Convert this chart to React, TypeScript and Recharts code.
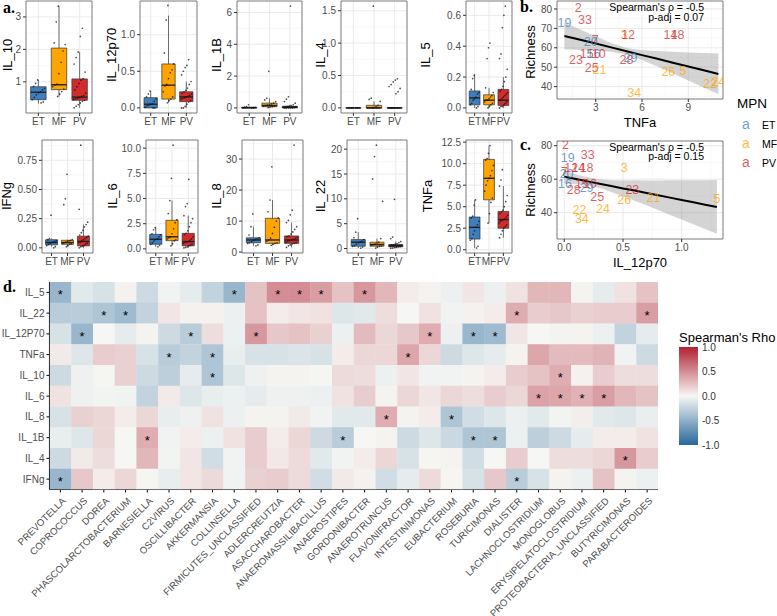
import React from "react";
import {
  ComposedChart, Scatter, Line, Area, Bar, XAxis, YAxis,
  CartesianGrid, ReferenceArea, ReferenceLine,
} from "recharts";

const FONT = "'Liberation Sans', Arial, sans-serif";
const SERIF = "'Liberation Serif', 'Times New Roman', serif";
const TICK = { fontSize: 10, fill: "#4d4d4d", fontFamily: FONT };

// ---- panel a: cytokine levels per MPN subtype ----
const groups = ["ET", "MF", "PV"];
const groupFill = ["#3d7ebf", "#ffa500", "#d22b2b"];

// box stats: [whisker low, q1, median, q3, whisker high]
const il10ET = [0.35, 0.38, 0.45, 0.52, 0.6, 0.66, 0.7, 0.75, 0.8, 0.86, 0.95, 1.06];
const il10MF = [0.55, 0.62, 0.7, 0.78, 0.85, 0.9, 0.93, 1.25, 1.6, 1.95, 2.15, 2.2, 2.85, 3.33];
const il10PV = [0.2, 0.25, 0.3, 0.35, 0.4, 0.43, 0.46, 0.48, 0.5, 0.52, 0.55, 0.58, 0.65, 0.75, 0.85, 0.95, 1.05, 1.1, 1.3, 1.55, 1.75, 1.92, 2.4, 2.65];
const il10Box = [[0.33, 0.45, 0.68, 0.85, 1.06], [0.55, 0.76, 0.91, 2.04, 3.33], [0.2, 0.43, 0.53, 1.09, 1.92]];

const il12ET = [0, 0, 0.01, 0.03, 0.04, 0.05, 0.06, 0.09, 0.12, 0.15, 0.19, 0.23];
const il12MF = [0.07, 0.1, 0.12, 0.15, 0.22, 0.3, 0.32, 0.4, 0.48, 0.52, 0.6, 0.75, 1.2, 1.4];
const il12PV = [0, 0, 0.02, 0.05, 0.08, 0.1, 0.12, 0.13, 0.14, 0.15, 0.16, 0.17, 0.19, 0.2, 0.22, 0.24, 0.27, 0.32, 0.36, 0.45, 0.5, 0.55, 0.58, 0.66];
const il12Box = [[0, 0, 0.05, 0.14, 0.23], [0.07, 0.12, 0.31, 0.6, 1.26], [0, 0.085, 0.15, 0.22, 0.36]];

const il1bET = [0, 0, 0, 0, 0.01, 0.02, 0.02, 0.03, 0.04, 0.05, 0.08, 0.2];
const il1bMF = [0.02, 0.05, 0.08, 0.1, 0.12, 0.15, 0.18, 0.2, 0.25, 0.3, 0.4, 0.5, 0.6, 2.3];
const il1bPV = [0, 0, 0, 0, 0, 0.01, 0.02, 0.03, 0.04, 0.05, 0.05, 0.06, 0.07, 0.08, 0.1, 0.12, 0.15, 0.2, 0.3, 0.4, 0.55, 0.7, 6.4];
const il1bBox = [[0, 0, 0.01, 0.04, 0.08], [0.02, 0.08, 0.15, 0.3, 0.6], [0, 0.01, 0.05, 0.1, 0.2]];

const il4ET = [0, 0, 0, 0, 0, 0, 0, 0, 0, 0, 0, 0];
const il4MF = [0, 0, 0, 0, 0, 0, 0, 0.01, 0.02, 0.04, 0.1, 0.13, 0.15, 1.57];
const il4PV = [0, 0, 0, 0, 0, 0, 0, 0, 0, 0, 0, 0, 0, 0, 0, 0, 0.22, 0.25, 0.3, 0.33, 0.36, 0.4, 0.43, 0.45];
const il4Box = [[0, 0, 0, 0, 0], [0, 0, 0, 0.04, 0.1], [0, 0, 0, 0, 0]];

const il5ET = [0, 0.01, 0.02, 0.03, 0.05, 0.06, 0.07, 0.09, 0.1, 0.12, 0.19, 0.21];
const il5MF = [0, 0.01, 0.02, 0.03, 0.04, 0.05, 0.05, 0.06, 0.07, 0.08, 0.1, 0.13, 0.32, 0.39, 0.42];
const il5PV = [0, 0.01, 0.01, 0.02, 0.03, 0.04, 0.05, 0.05, 0.06, 0.07, 0.08, 0.09, 0.1, 0.11, 0.12, 0.14, 0.17, 0.2, 0.25, 0.32, 0.35, 0.52, 0.6, 0.66];
const il5Box = [[0, 0.02, 0.065, 0.11, 0.22], [0, 0.02, 0.05, 0.085, 0.13], [0, 0.015, 0.05, 0.12, 0.2]];

const ifngET = [0, 0.01, 0.02, 0.03, 0.04, 0.045, 0.05, 0.055, 0.06, 0.07, 0.08, 0.28];
const ifngMF = [0.01, 0.02, 0.03, 0.035, 0.04, 0.045, 0.05, 0.055, 0.06, 0.065, 0.07, 0.37, 0.42, 0.63];
const ifngPV = [0, 0.01, 0.015, 0.02, 0.03, 0.04, 0.05, 0.05, 0.06, 0.07, 0.08, 0.09, 0.1, 0.11, 0.13, 0.15, 0.18, 0.2, 0.22, 0.33, 0.88];
const ifngBox = [[0.01, 0.026, 0.046, 0.07, 0.08], [0.01, 0.03, 0.045, 0.065, 0.07], [0, 0.017, 0.055, 0.1, 0.2]];

const il6ET = [0.2, 0.35, 0.45, 0.6, 0.8, 0.95, 1.0, 1.2, 1.4, 1.5, 1.9, 2.1];
const il6MF = [0.3, 0.5, 0.8, 0.9, 1.0, 1.1, 1.2, 1.5, 2.0, 2.6, 2.9, 3.5, 4.8, 7.0, 10.3];
const il6PV = [0.1, 0.15, 0.2, 0.3, 0.35, 0.45, 0.55, 0.65, 0.7, 0.75, 0.85, 1.0, 1.2, 1.4, 1.55, 1.8, 2.2, 2.6, 3.0, 3.3, 4.2, 4.5, 6.9];
const il6Box = [[0.2, 0.46, 0.95, 1.44, 2.1], [0.3, 0.82, 1.2, 2.84, 4.8], [0.1, 0.3, 0.72, 1.54, 3.3]];

const il8ET = [2.0, 2.3, 2.8, 3.0, 3.4, 3.8, 4.0, 4.3, 4.6, 5.5, 8.2, 12.3];
const il8MF = [2.2, 2.5, 2.8, 3.0, 3.5, 3.9, 4.5, 6.0, 8.0, 10.0, 11.0, 13.0, 16.8, 27.5];
const il8PV = [1.5, 2.0, 2.3, 2.6, 2.8, 3.0, 3.2, 3.5, 3.7, 3.9, 4.1, 4.4, 4.7, 5.0, 5.2, 5.8, 6.5, 7.3, 8.2, 9.5, 10.2, 12.0, 13.5, 34.5];
const il8Box = [[2.0, 3.0, 3.9, 4.6, 8.2], [2.2, 2.8, 3.9, 10.9, 16.8], [1.5, 2.8, 3.9, 5.2, 9.5]];

const il22ET = [0.1, 0.3, 0.45, 0.6, 0.9, 1.2, 1.3, 1.5, 1.8, 2.2, 3.3, 6.0];
const il22MF = [0.1, 0.3, 0.45, 0.5, 0.7, 0.8, 0.9, 1.1, 1.3, 2.0, 9.5, 14.0, 18.5, 20.8];
const il22PV = [0.05, 0.1, 0.2, 0.3, 0.35, 0.4, 0.45, 0.5, 0.55, 0.6, 0.6, 0.65, 0.7, 0.75, 0.8, 0.9, 1.0, 1.2, 1.4, 2.0, 2.3, 9.9];
const il22Box = [[0.1, 0.47, 1.27, 1.8, 3.3], [0.1, 0.47, 0.8, 1.27, 2.0], [0.05, 0.33, 0.6, 0.8, 1.4]];

const tnfET = [0.2, 0.4, 1.1, 1.3, 1.8, 2.2, 2.6, 2.9, 3.3, 3.7, 3.9, 5.2, 5.8];
const tnfMF = [3.1, 4.2, 5.5, 6.0, 6.8, 7.5, 8.0, 8.3, 8.6, 9.2, 9.8, 10.4, 10.6, 11.2, 12.1];
const tnfPV = [1.4, 1.8, 2.2, 2.5, 2.7, 2.9, 3.1, 3.3, 3.4, 3.5, 3.6, 3.8, 4.0, 4.2, 4.4, 4.6, 5.0, 5.6, 6.3, 7.4, 8.1, 9.3];
const tnfBox = [[0.2, 1.24, 2.6, 3.8, 5.8], [3.1, 5.8, 8.3, 10.5, 12.1], [1.4, 2.5, 3.5, 4.45, 7.4]];

const boxPanels = [
  { name: "IL_10", pts: [il10ET, il10MF, il10PV], box: il10Box, ticks: [1, 2, 3], dec: 0, domain: [0.04, 3.49] },
  { name: "IL_12p70", pts: [il12ET, il12MF, il12PV], box: il12Box, ticks: [0, 0.5, 1], dec: 1, domain: [-0.07, 1.46] },
  { name: "IL_1B", pts: [il1bET, il1bMF, il1bPV], box: il1bBox, ticks: [0, 2, 4, 6], dec: 0, domain: [-0.32, 6.72] },
  { name: "IL_4", pts: [il4ET, il4MF, il4PV], box: il4Box, ticks: [0, 0.5, 1, 1.5], dec: 1, domain: [-0.079, 1.65] },
  { name: "IL_5", pts: [il5ET, il5MF, il5PV], box: il5Box, ticks: [0, 0.2, 0.4, 0.6], dec: 1, domain: [-0.033, 0.693] },
  { name: "IFNg", pts: [ifngET, ifngMF, ifngPV], box: ifngBox, ticks: [0, 0.25, 0.5, 0.75], dec: 2, domain: [-0.044, 0.924] },
  { name: "IL_6", pts: [il6ET, il6MF, il6PV], box: il6Box, ticks: [0, 2.5, 5, 7.5, 10], dec: 1, domain: [-0.41, 10.81] },
  { name: "IL_8", pts: [il8ET, il8MF, il8PV], box: il8Box, ticks: [0, 10, 20, 30], dec: 0, domain: [-0.3, 36.15] },
  { name: "IL_22", pts: [il22ET, il22MF, il22PV], box: il22Box, ticks: [0, 5, 10, 15, 20], dec: 0, domain: [-0.9, 21.84] },
  { name: "TNFa", pts: [tnfET, tnfMF, tnfPV], box: tnfBox, ticks: [0, 2.5, 5, 7.5, 10, 12.5], dec: 1, domain: [-0.38, 12.75] },
];
// plot rectangles [x, y, w, h] and y-title x positions
const boxRects = [
  [26, 1, 66, 112], [140, 1, 57, 112], [237, 1, 65, 112], [341, 1, 66, 112], [466, 1, 46, 112],
  [42, 140, 51, 113], [146, 140, 52, 113], [242, 140, 61, 113], [347, 140, 60, 113], [466, 140, 46, 113],
];
const boxTitleX = [7, 111, 216, 320, 425, 6, 112, 216, 320, 427];

// ---- panels b, c: richness vs cytokine ----
const patientIds = [2, 33, 19, 7, 20, 3, 12, 14, 18, 15, 16, 10, 23, 28, 29, 25, 21, 26, 5, 22, 24, 34];
const patientGroup = ["PV", "PV", "ET", "PV", "ET", "MF", "PV", "PV", "PV", "PV", "ET", "PV", "PV", "PV", "ET", "PV", "MF", "MF", "MF", "MF", "MF", "MF"];
const richness = [81, 74.8, 73, 64.3, 63.3, 67, 67, 67, 67, 57.3, 57.3, 57.3, 53.7, 53.9, 55.2, 49.7, 48.8, 47.7, 48.4, 41.7, 42.4, 36.8];
const tnfa = [1.87, 2.31, 0.97, 2.96, 2.68, 4.85, 5.1, 7.85, 8.3, 2.42, 2.85, 3.2, 1.72, 5.0, 5.25, 2.74, 3.24, 7.71, 8.64, 10.41, 10.95, 5.5];
const il12p70 = [0.01, 0.2, 0.03, 0.0, 0.02, 0.51, 0.06, 0.12, 0.19, 0.15, 0.006, 0.22, 0.58, 0.08, 0.19, 0.28, 0.76, 0.51, 1.3, 0.13, 0.33, 0.15];

const fitTnfX = [0.97, 2, 3, 4, 5, 6, 7, 8, 9, 10, 10.95];
const fitTnfY = [66.1, 64.1, 62.2, 60.2, 58.2, 56.2, 54.3, 52.3, 50.3, 48.4, 46.5];
const fitTnfLo = [59.2, 58.9, 58.5, 57.9, 56.5, 53.7, 50.3, 46.7, 43.1, 39.5, 36.0];
const fitTnfHi = [73.0, 69.4, 65.9, 62.5, 59.9, 58.7, 58.3, 57.9, 57.5, 57.3, 57.0];

const fitIlX = [0, 0.1, 0.2, 0.3, 0.4, 0.5, 0.6, 0.7, 0.8, 0.9, 1.0, 1.1, 1.2, 1.3];
const fitIlY = [61.5, 60.1, 58.7, 57.3, 55.9, 54.5, 53.2, 51.8, 50.4, 49.0, 47.6, 46.2, 44.8, 43.4];
const fitIlLo = [57.5, 57.2, 56.3, 54.7, 52.4, 49.8, 47.1, 44.4, 41.6, 38.7, 35.9, 33.1, 30.2, 27.5];
const fitIlHi = [65.5, 63.0, 61.1, 59.9, 59.4, 59.2, 59.3, 59.2, 59.2, 59.3, 59.3, 59.4, 59.4, 59.5];

// ---- panel d: Spearman's rho heatmap ----
const taxa = ["PREVOTELLA", "COPROCOCCUS", "DOREA", "PHASCOLARCTOBACTERIUM", "BARNESIELLA", "C2VIRUS", "OSCILLIBACTER", "AKKERMANSIA", "COLLINSELLA", "FIRMICUTES_UNCLASSIFIED", "ADLERCREUTZIA", "ASACCHAROBACTER", "ANAEROMASSILIBACILLUS", "ANAEROSTIPES", "GORDONIBACTER", "ANAEROTRUNCUS", "FLAVONIFRACTOR", "INTESTINIMONAS", "EUBACTERIUM", "ROSEBURIA", "TURICIMONAS", "DIALISTER", "LACHNOCLOSTRIDIUM", "MONOGLOBUS", "ERYSIPELATOCLOSTRIDIUM", "PROTEOBACTERIA_UNCLASSIFIED", "BUTYRICIMONAS", "PARABACTEROIDES"];
const cytokines = ["IL_5", "IL_22", "IL_12P70", "TNFa", "IL_10", "IL_6", "IL_8", "IL_1B", "IL_4", "IFNg"];

const rhoIL5 = [-0.45, -0.1, -0.15, 0.03, -0.2, -0.03, -0.08, -0.25, -0.45, 0.25, 0.5, 0.5, 0.42, 0.25, 0.45, 0.3, 0.05, 0.02, -0.05, 0.08, -0.05, 0.1, 0.3, 0.3, 0.02, -0.08, 0.1, 0.25];
const rhoIL22 = [-0.3, -0.3, -0.35, -0.42, -0.25, 0.08, 0.03, 0.03, -0.05, 0.25, 0.05, 0.08, 0.1, -0.12, -0.1, 0.12, 0.0, 0.1, -0.03, 0.03, 0.05, 0.35, 0.2, 0.22, 0.18, 0.2, 0.2, 0.42];
const rhoIL12 = [-0.15, -0.45, 0.0, -0.08, 0.02, -0.2, -0.3, 0.12, -0.05, 0.45, 0.22, 0.25, 0.18, -0.05, 0.28, 0.15, 0.22, 0.35, -0.05, -0.45, -0.42, 0.08, 0.0, -0.02, 0.02, -0.05, -0.25, -0.08];
const rhoTNF = [0.06, -0.12, 0.2, 0.18, -0.15, -0.3, -0.25, -0.35, -0.07, -0.15, -0.15, -0.13, -0.15, 0.05, 0.15, 0.15, 0.38, 0.15, -0.2, -0.12, -0.08, 0.02, 0.38, 0.28, 0.28, 0.32, -0.03, -0.2];
const rhoIL10 = [-0.2, -0.04, 0.01, 0.18, -0.2, -0.28, -0.08, -0.35, -0.12, -0.04, 0.02, 0.02, -0.01, 0.13, 0.12, -0.05, 0.08, -0.03, -0.03, 0.02, 0.05, 0.2, 0.25, 0.35, 0.03, 0.2, 0.12, 0.12];
const rhoIL6 = [0.1, -0.04, -0.02, -0.03, -0.25, 0.06, -0.12, -0.07, -0.05, -0.08, -0.04, -0.04, -0.05, 0.1, 0.2, 0.02, 0.15, 0.08, 0.15, 0.12, 0.2, 0.15, 0.4, 0.38, 0.33, 0.42, 0.3, 0.25];
const rhoIL8 = [-0.15, 0.18, 0.15, 0.05, 0.15, -0.07, -0.04, 0.1, -0.05, 0.02, 0.02, 0.06, -0.03, -0.1, -0.1, 0.35, 0.02, 0.05, -0.35, -0.18, -0.12, -0.05, -0.1, -0.02, 0.04, -0.1, -0.12, -0.06];
const rhoIL1B = [-0.07, -0.12, 0.15, 0.0, 0.35, -0.03, 0.05, -0.05, 0.1, 0.2, 0.05, 0.15, -0.2, -0.3, 0.0, 0.02, -0.2, -0.12, -0.22, -0.35, -0.35, -0.05, -0.28, -0.2, -0.08, 0.05, 0.05, 0.1];
const rhoIL4 = [-0.2, 0.06, 0.12, 0.0, 0.3, -0.02, 0.08, -0.18, -0.03, 0.2, 0.07, 0.13, -0.1, -0.03, 0.05, 0.15, -0.15, 0.01, 0.02, -0.18, 0.0, 0.2, 0.0, 0.12, 0.12, 0.15, 0.45, 0.2];
const rhoIFNg = [-0.45, 0.22, 0.05, 0.15, 0.01, -0.07, 0.08, 0.14, -0.03, 0.18, 0.2, 0.13, -0.18, 0.06, 0.03, -0.18, -0.08, 0.13, 0.01, -0.15, 0.22, -0.3, -0.15, 0.02, -0.05, 0.25, 0.02, -0.05];
const rhoRows = [rhoIL5, rhoIL22, rhoIL12, rhoTNF, rhoIL10, rhoIL6, rhoIL8, rhoIL1B, rhoIL4, rhoIFNg];

// significant cells (column index per row)
const sigRows = [
  [0, 8, 10, 11, 12, 14], [2, 3, 21, 27], [1, 6, 9, 17, 19, 20], [5, 7, 16], [7, 23],
  [22, 23, 24, 25], [15, 18], [4, 13, 19, 20], [26], [0, 21],
];

const LOW = [40, 104, 156];
const MID = [246, 247, 244];
const HIGH = [178, 34, 52];
function rhoColor(v: number) {
  const a = Math.min(1, Math.abs(v));
  const end = v < 0 ? LOW : HIGH;
  const c = MID.map((m, i) => Math.round(m * (1 - a) + end[i] * a));
  return `rgb(${c[0]},${c[1]},${c[2]})`;
}

function jitterShape(spread: number) {
  return (props: any) => {
    const { cx, cy, payload } = props;
    if (cx == null || cy == null) return <g />;
    const k = ((payload.i * 41 + payload.g * 13) % 19) / 18 - 0.5;
    return <circle cx={cx + k * spread} cy={cy} r={0.85} fill="#111" fillOpacity={0.75} />;
  };
}

function BoxPanel({ p, rect }: any) {
  const [px, py, pw, ph] = rect;
  const padL = 40, padT = 2, padR = 2, axisH = 24;
  const dots = p.pts.flatMap((vals: number[], g: number) => vals.map((v, i) => ({ g: g + 1, v, i })));
  const step = p.ticks[1] - p.ticks[0];
  const minor = [...p.ticks.map((t: number) => t - step / 2), p.ticks[p.ticks.length - 1] + step / 2]
    .filter((m: number) => m > p.domain[0] && m < p.domain[1]);
  const spread = (0.6 * pw) / 3.2;
  return (
    <div style={{ position: "absolute", left: px - padL, top: py - padT }}>
      <ComposedChart width={pw + padL + padR} height={ph + padT + axisH} margin={{ top: padT, right: padR, bottom: 0, left: 0 }}>
        <CartesianGrid horizontalValues={minor} vertical={false} stroke="#f3f3f3" strokeWidth={0.6} />
        <CartesianGrid horizontalValues={p.ticks} verticalValues={[1, 2, 3]} stroke="#e8e8e8" strokeWidth={0.9} />
        <XAxis type="number" dataKey="g" domain={[0.4, 3.6]} ticks={[1, 2, 3]} interval={0} allowDataOverflow
          tickFormatter={(v: number) => groups[v - 1]} axisLine={false} tickSize={3} tickMargin={2}
          tickLine={{ stroke: "#333" }} tick={TICK} height={axisH} />
        <YAxis type="number" dataKey="v" domain={p.domain} ticks={p.ticks} interval={0} allowDataOverflow
          tickFormatter={(v: number) => v.toFixed(p.dec)} axisLine={false} tickSize={3} tickMargin={2}
          tickLine={{ stroke: "#333" }} tick={TICK} width={padL} />
        {p.box.map(([lo, q1, md, q3, hi]: number[], g: number) => [
          <ReferenceLine key={`wl${g}`} segment={[{ x: g + 1, y: lo }, { x: g + 1, y: q1 }]} stroke="#333" strokeWidth={0.7} />,
          <ReferenceLine key={`wh${g}`} segment={[{ x: g + 1, y: q3 }, { x: g + 1, y: hi }]} stroke="#333" strokeWidth={0.7} />,
          <ReferenceArea key={`b${g}`} x1={g + 0.625} x2={g + 1.375} y1={q1} y2={q3} fill={groupFill[g]} fillOpacity={1} stroke="#333" strokeWidth={0.7} />,
          <ReferenceLine key={`m${g}`} segment={[{ x: g + 0.625, y: md }, { x: g + 1.375, y: md }]} stroke="#222" strokeWidth={1.4} />,
        ])}
        <Scatter data={dots} dataKey="v" isAnimationActive={false} shape={jitterShape(spread)} />
        <ReferenceArea x1={0.4} x2={3.6} y1={p.domain[0]} y2={p.domain[1]} fill="none" fillOpacity={0} stroke="#6b6b6b" strokeWidth={0.9} />
      </ComposedChart>
    </div>
  );
}

const LabelMark = (props: any) => {
  const { cx, cy, payload } = props;
  if (cx == null || cy == null) return <g />;
  return (
    <text x={cx} y={cy} dy="0.36em" textAnchor="middle" fontSize={12.5} fontFamily={FONT}
      fill={groupFill[payload.g]} fillOpacity={0.75}>{payload.id}</text>
  );
};

function RichPanel({ rect, xs, domX, domY, ticksX, ticksY, minorX, minorY, fx, fy, flo, fhi, xDec }: any) {
  const [px, py, pw, ph] = rect;
  const padL = 34, padT = 2, padR = 2, axisH = 22;
  const pts = patientIds.map((id, i) => ({ x: xs[i], y: richness[i], id, g: groups.indexOf(patientGroup[i]) }));
  const fit = fx.map((x: number, i: number) => ({ x, fit: fy[i], band: [flo[i], fhi[i]] }));
  return (
    <div style={{ position: "absolute", left: px - padL, top: py - padT }}>
      <ComposedChart width={pw + padL + padR} height={ph + padT + axisH} data={fit} margin={{ top: padT, right: padR, bottom: 0, left: 0 }}>
        <CartesianGrid horizontalValues={minorY} verticalValues={minorX} stroke="#f3f3f3" strokeWidth={0.6} />
        <CartesianGrid horizontalValues={ticksY} verticalValues={ticksX} stroke="#e6e6e6" strokeWidth={0.9} />
        <XAxis type="number" dataKey="x" domain={domX} ticks={ticksX} interval={0} allowDataOverflow
          tickFormatter={(v: number) => v.toFixed(xDec)} axisLine={false} tickSize={3} tickMargin={2}
          tickLine={{ stroke: "#333" }} tick={TICK} height={axisH} />
        <YAxis type="number" dataKey="y" domain={domY} ticks={ticksY} interval={0} allowDataOverflow
          axisLine={false} tickSize={3} tickMargin={2} tickLine={{ stroke: "#333" }} tick={TICK} width={padL} />
        <Area dataKey="band" type="linear" stroke="none" fill="#999" fillOpacity={0.42} isAnimationActive={false} />
        <Line dataKey="fit" type="linear" stroke="#000" strokeWidth={2} dot={false} isAnimationActive={false} />
        <Scatter data={pts} dataKey="y" isAnimationActive={false} shape={LabelMark} />
        <ReferenceArea x1={domX[0]} x2={domX[1]} y1={domY[0]} y2={domY[1]} fill="none" fillOpacity={0} stroke="#6b6b6b" strokeWidth={0.9} />
      </ComposedChart>
    </div>
  );
}

const TaxonTick = (props: any) => {
  const { x, y, payload } = props;
  const tx = x + 6, ty = y + 7;
  return (
    <text x={tx} y={ty} transform={`rotate(-45 ${tx} ${ty})`} textAnchor="end" fontSize={9.6}
      fill="#4d4d4d" fontFamily={FONT}>{taxa[payload.value]}</text>
  );
};

function Heatmap() {
  const px = 49.5, py = 282, pw = 608.5, ph = 207.5;
  const cw = pw / taxa.length, ch = ph / cytokines.length;
  const cells = cytokines.flatMap((c, r) => rhoRows[r].map((rho, k) => ({ col: k, row: r, rho, sig: sigRows[r].includes(k) })));
  const Cell = (props: any) => {
    const { cx, cy, payload } = props;
    if (cx == null || cy == null) return <g />;
    return (
      <g>
        <rect x={cx - cw / 2} y={cy - ch / 2} width={cw + 0.4} height={ch + 0.4} fill={rhoColor(payload.rho)} />
        {payload.sig && (
          <text x={cx} y={cy + 7} textAnchor="middle" fontSize={13} fontFamily={FONT} fill="#000">*</text>
        )}
      </g>
    );
  };
  return (
    <div style={{ position: "absolute", left: 0, top: py - 4 }}>
      <ComposedChart width={px + pw + 4} height={616 - (py - 4)} margin={{ top: 4, right: 4, bottom: 0, left: 0 }}>
        <XAxis type="number" dataKey="col" domain={[-0.5, taxa.length - 0.5]} ticks={taxa.map((_, i) => i)} interval={0}
          allowDataOverflow height={616 - py - ph} tick={TaxonTick} tickSize={3} tickMargin={2}
          tickLine={{ stroke: "#000" }} axisLine={{ stroke: "#000", strokeWidth: 1.1 }} />
        <YAxis type="number" dataKey="row" reversed domain={[-0.5, cytokines.length - 0.5]} ticks={cytokines.map((_, i) => i)}
          interval={0} allowDataOverflow width={px} tickFormatter={(i: number) => cytokines[i]} tick={TICK}
          tickSize={3} tickMargin={2} tickLine={{ stroke: "#000" }} axisLine={{ stroke: "#000", strokeWidth: 1.1 }} />
        <Scatter data={cells} dataKey="row" isAnimationActive={false} shape={Cell} />
      </ComposedChart>
    </div>
  );
}

function RhoLegend() {
  const stops = Array.from({ length: 21 }, (_, i) => 1 - i * 0.1);
  return (
    <div style={{ position: "absolute", left: 679, top: 341 }}>
      <ComposedChart width={19 + 34} height={110} data={[{ k: "rho", r: [-1, 1] }]} barCategoryGap={0}
        margin={{ top: 6, right: 0, bottom: 6, left: 0 }}>
        <defs>
          <linearGradient id="rhoGrad" x1="0" y1="0" x2="0" y2="1">
            {stops.map((v, i) => <stop key={i} offset={`${i * 5}%`} stopColor={rhoColor(v)} />)}
          </linearGradient>
        </defs>
        <XAxis dataKey="k" hide />
        <YAxis orientation="right" domain={[-1, 1]} ticks={[-1, -0.5, 0, 0.5, 1]} interval={0}
          tickFormatter={(v: number) => v.toFixed(1)} axisLine={false} tickLine={false} tickSize={0} tickMargin={4}
          tick={{ fontSize: 10, fill: "#333", fontFamily: FONT }} width={34} />
        <Bar dataKey="r" fill="url(#rhoGrad)" isAnimationActive={false} />
      </ComposedChart>
    </div>
  );
}

function Overlay() {
  const vt = (x: number, y: number, s: string) => (
    <text key={s + x + y} transform={`translate(${x},${y}) rotate(-90)`} textAnchor="middle" dominantBaseline="central"
      fontSize={13} fontFamily={FONT} fill="#000">{s}</text>
  );
  const letter = (x: number, y: number, s: string) => (
    <text key={s} x={x} y={y} fontSize={16} fontWeight="bold" fontFamily={SERIF} fill="#000">{s}</text>
  );
  const note = (y: number, s: string) => (
    <text key={s + y} x={704} y={y} dy="0.35em" textAnchor="end" fontSize={10.5} fontFamily={FONT} fill="#000">{s}</text>
  );
  const rowY = [55, 55, 55, 55, 55, 196, 196, 196, 196, 196];
  return (
    <svg width={777} height={616} style={{ position: "absolute", left: 0, top: 0, pointerEvents: "none" }}>
      {boxPanels.map((p, i) => vt(boxTitleX[i], rowY[i], p.name))}
      {vt(530, 52, "Richness")}
      {vt(530, 190, "Richness")}
      <text x={640} y={122} dy="0.35em" textAnchor="middle" fontSize={13} fontFamily={FONT}>TNFa</text>
      <text x={640} y={262} dy="0.35em" textAnchor="middle" fontSize={13} fontFamily={FONT}>IL_12p70</text>
      {note(7, "Spearman's ρ = -0.5")}
      {note(17, "p-adj = 0.07")}
      {note(147, "Spearman's ρ = -0.5")}
      {note(156, "p-adj = 0.15")}
      {letter(3, 13, "a.")}
      {letter(520, 12, "b.")}
      {letter(520, 150, "c.")}
      {letter(3, 292, "d.")}
      <text x={737} y={108} fontSize={13.5} fontFamily={FONT}>MPN</text>
      {groups.map((g, i) => (
        <g key={g}>
          <text x={746} y={125 + i * 19} dy="0.3em" textAnchor="middle" fontSize={14} fontFamily={FONT}
            fill={groupFill[i]} fillOpacity={0.75}>a</text>
          <text x={762} y={125 + i * 19} dy="0.35em" fontSize={10.5} fontFamily={FONT}>{g}</text>
        </g>
      ))}
      <text x={679} y={337} dy="0.35em" fontSize={13} fontFamily={FONT}>Spearman's Rho</text>
    </svg>
  );
}

export default function App() {
  return (
    <div style={{ position: "absolute", left: 0, top: 0, width: 777, height: 616, background: "#fff", fontFamily: FONT }}>
      {boxPanels.map((p, i) => <BoxPanel key={p.name} p={p} rect={boxRects[i]} />)}
      <RichPanel rect={[557, 1, 166, 98]} xs={tnfa} domX={[0.49, 11.25]} domY={[33.6, 84.1]}
        ticksX={[3, 6, 9]} ticksY={[40, 50, 60, 70, 80]} minorX={[1.5, 4.5, 7.5, 10.5]} minorY={[35, 45, 55, 65, 75]}
        fx={fitTnfX} fy={fitTnfY} flo={fitTnfLo} fhi={fitTnfHi} xDec={0} />
      <RichPanel rect={[557, 141, 166, 98]} xs={il12p70} domX={[-0.062, 1.352]} domY={[24.3, 82.8]}
        ticksX={[0, 0.5, 1]} ticksY={[40, 60, 80]} minorX={[0.25, 0.75, 1.25]} minorY={[30, 50, 70]}
        fx={fitIlX} fy={fitIlY} flo={fitIlLo} fhi={fitIlHi} xDec={1} />
      <Heatmap />
      <RhoLegend />
      <Overlay />
    </div>
  );
}
